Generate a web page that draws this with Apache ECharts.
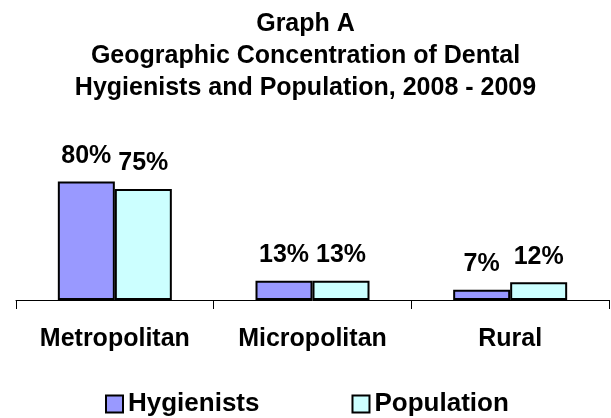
<!DOCTYPE html>
<html>
<head>
<meta charset="utf-8">
<script src="https://cdn.jsdelivr.net/npm/echarts@6/dist/echarts.min.js"></script>
<style>
  html, body { margin: 0; padding: 0; background: #fff; }
  #chart { width: 611px; height: 418px; }
</style>
</head>
<body>
<div id="chart"></div>
<script>
var categories = ['Metropolitan', 'Micropolitan', 'Rural'];
var hygienists = [80, 13, 7];
var population = [75, 13, 12];

var chart = echarts.init(document.getElementById('chart'));
var font = '"Liberation Sans", Arial, sans-serif';

var labelStyle = {
  show: true,
  position: 'top',
  distance: 13,
  formatter: '{c}%',
  fontFamily: font,
  fontWeight: 'bold',
  fontSize: 25,
  color: '#000'
};

chart.setOption({
  animation: false,
  title: {
    text: 'Graph A\nGeographic Concentration of Dental\nHygienists and Population, 2008 - 2009',
    left: 'center',
    top: 8,
    padding: 0,
    textStyle: {
      fontFamily: font,
      fontWeight: 'bold',
      fontSize: 25,
      lineHeight: 32,
      color: '#000'
    }
  },
  legend: {
    top: 391,
    left: 105,
    itemGap: 92,
    itemWidth: 17,
    itemHeight: 17,
    padding: 0,
    icon: 'rect',
    textStyle: { fontFamily: font, fontWeight: 'bold', fontSize: 26, color: '#000' },
    data: ['Hygienists', 'Population']
  },
  grid: { left: 16, right: 2, top: 152, height: 148 },
  xAxis: {
    type: 'category',
    data: categories,
    axisLine: { lineStyle: { color: '#000', width: 1 } },
    axisTick: { show: true, length: 9, lineStyle: { color: '#000' } },
    axisLabel: {
      margin: 27,
      fontFamily: font,
      fontWeight: 'bold',
      fontSize: 25,
      color: '#000'
    }
  },
  yAxis: {
    type: 'value',
    min: 0,
    max: 100,
    show: false
  },
  series: [
    {
      name: 'Hygienists',
      type: 'bar',
      data: hygienists,
      barWidth: 57,
      barGap: '0%',
      itemStyle: { color: '#9999FF', borderColor: '#000', borderWidth: 2 },
      label: labelStyle
    },
    {
      name: 'Population',
      type: 'bar',
      data: population,
      barWidth: 57,
      barGap: '0%',
      itemStyle: { color: '#CCFFFF', borderColor: '#000', borderWidth: 2 },
      label: labelStyle
    }
  ]
});
</script>
</body>
</html>
